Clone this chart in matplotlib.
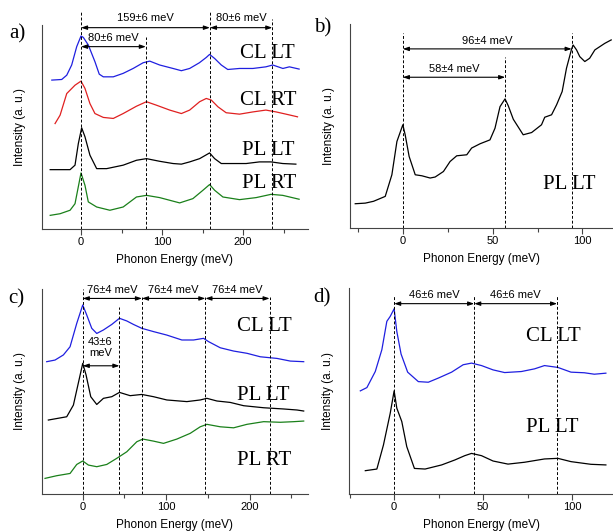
import matplotlib
matplotlib.use("Agg")
import matplotlib.pyplot as plt
from matplotlib.ticker import MultipleLocator

plt.rcParams['font.family'] = ['Liberation Sans', 'DejaVu Sans']

# ---- panel a) ----
a_cl_lt_x = [-36, -23.8, -17.6, -11.5, -5.3, 0, 2.9, 9, 17.2, 22.5, 27.5, 39.8, 52, 64.3, 76.6, 84.8, 97,
             113.5, 123.8, 134, 146, 154.5, 158.6, 164.8, 173, 181, 195.5, 212, 228, 236.5, 249, 257, 269]
a_cl_lt_y = [73.0, 73.3, 75.4, 80.4, 89.4, 94.6, 93.9, 90.2, 82, 75.9, 74.6, 74.6, 76.3, 78.7, 81.5, 82.3, 80.4,
             78.7, 77.6, 78.7, 81.5, 84.1, 85.6, 83.6, 80.4, 78.2, 78.7, 78.7, 79.5, 80.4, 78.7, 79.5, 78.4]
a_cl_rt_x = [-32, -25.8, -17.6, -7.4, 0, 4.9, 11, 17.2, 27.5, 39.8, 52, 68.4, 80.7, 93, 109.4, 123.8, 134,
             146.3, 154.5, 160.7, 168.9, 179, 195.5, 212, 228, 240.6, 252.9, 267]
a_cl_rt_y = [51.7, 55.8, 66.4, 70.5, 72.5, 68.9, 61.5, 56.6, 54.7, 54.2, 56.6, 60.2, 62.4, 60.7, 58.3, 56.6, 58.3,
             62.4, 64, 63.2, 59.9, 57, 56.3, 57.4, 58.3, 57.4, 56.3, 55]
a_pl_lt_x = [-38, -13.5, -7.4, -3.3, 0.8, 4.9, 11, 19.3, 31.6, 52, 68.4, 80.7, 97, 113.5, 123.8, 134, 146.3,
             158.6, 164.8, 173, 187.3, 203.7, 220, 234.4, 248.8, 265]
a_pl_lt_y = [29.1, 29.1, 31.3, 41.9, 49.6, 45.2, 36.2, 29.6, 29.6, 31.3, 33.7, 34.5, 33.2, 32.1, 31.8, 32.9, 34.5,
             37.3, 34.5, 32.1, 32.1, 32.1, 32.9, 32.9, 32.1, 31.8]
a_pl_rt_x = [-38, -25.8, -13.5, -7.4, 0, 4.9, 9, 19.3, 35.6, 52, 68.4, 80.7, 97, 121.7, 138, 150.4, 158.6,
             164.8, 175, 195.5, 216, 234.4, 248.8, 269]
a_pl_rt_y = [6.7, 7.5, 9.2, 12.4, 27.5, 21.4, 13.3, 10.8, 9.2, 10.8, 15.7, 16.5, 15.4, 12.8, 14.9, 19, 21.8,
             19, 15.7, 14.4, 15.4, 17, 16.5, 14.6]
a_lines = [0, 80, 159, 236]

# ---- panel b) ----
b_pl_lt_x = [-26.5, -20.9, -16.3, -9.8, -6.1, -3.3, 0, 1.3, 3.5, 6.9, 10.6, 15.2, 18, 22.6, 26.3, 30, 35.6,
             38.3, 43, 48.5, 51.3, 54.1, 56.9, 58.7, 61.5, 67, 71.7, 77.2, 79, 82.8, 85.6, 88.7, 91.1, 93.9,
             94.8, 96.7, 98.5, 101.3, 104, 106.9, 112.4, 116]
b_pl_lt_y = [11.9, 12.2, 13.1, 15.5, 26.1, 42.4, 50.6, 45.7, 35.1, 26.1, 25.6, 24.5, 25, 27.7, 32.6, 35.4, 35.9,
             39.2, 41.3, 43.2, 48.9, 59.5, 63.3, 59.9, 53.3, 45.7, 46.8, 50.6, 54.3, 55.5, 60.4, 66.9, 78.3, 87.6,
             89.7, 87.3, 84, 81.6, 83.2, 87.3, 90.5, 92.2]
b_lines = [0, 57, 94]

# ---- panel c) ----
c_cl_lt_x = [-43.2, -33.2, -23.2, -15.2, -7.2, 0, 4.8, 10.8, 16.8, 24.8, 34.8, 44, 52.8, 60.8, 70.8, 84.8,
             100.8, 118.8, 132.8, 144.8, 150.8, 164.8, 180.8, 196.8, 212.8, 232.8, 248.8, 264.8]
c_cl_lt_y = [64.5, 65.3, 67.8, 71.8, 83.2, 92.2, 87.3, 80.8, 78.3, 80, 82.7, 85.7, 84.4, 82.7, 80.8, 79.2,
             77.5, 75.1, 75.1, 75.9, 74.3, 71.3, 69.7, 68.6, 66.9, 66.1, 64.8, 64.5]
c_pl_lt_x = [-41.2, -19.2, -11.2, -4, 0, 4, 9.6, 16.8, 24.8, 34.8, 44, 56.8, 70.8, 84.8, 100.8, 124.8, 140.8,
             148.8, 160.8, 176.8, 192.8, 216.8, 240.8, 256.8, 264.8]
c_pl_lt_y = [36, 37.6, 43.3, 56.4, 63.7, 58, 47.4, 43.6, 46.6, 47.4, 49.5, 47.9, 48.5, 47.4, 45.8, 45, 45.8,
             46.6, 45.3, 44.6, 43, 42, 41.4, 40.9, 40.4]
c_pl_rt_x = [-45.2, -31.2, -15.2, -7.2, 0, 6.8, 16.8, 28.8, 40.8, 52.8, 64.8, 72, 84.8, 96.8, 112.8, 128.8,
             140.8, 148.8, 164.8, 180.8, 196.8, 216.8, 236.8, 252.8, 264.8]
c_pl_rt_y = [7.5, 8.8, 9.9, 14.3, 16, 14, 13.2, 14.3, 17.3, 20.5, 25.4, 26.7, 25.7, 24.6, 26.7, 29.5,
             32.7, 33.9, 32.7, 32.2, 33.9, 35.2, 34.9, 35.2, 35.5]
c_lines = [0, 44, 71, 147, 224]

# ---- panel d) ----
d_cl_lt_x = [-19, -15.3, -10.6, -6.9, -4.1, -2.2, 0, 1.5, 3.9, 7.6, 13.6, 19.2, 24.8, 32.3, 38.8, 43.5, 49.1,
             55.6, 62.1, 71.5, 78.9, 84.5, 92, 99.4, 106.9, 112.5, 119]
d_cl_lt_y = [50, 51.6, 59.4, 70, 83.8, 86.2, 89.9, 78.9, 67.9, 59.1, 54.5, 54.2, 56.2, 59.1, 62.7, 63.5, 62.3,
             60.2, 58.9, 59.4, 60.7, 62.3, 61.4, 59.1, 58.8, 58.1, 58.6]
d_pl_lt_x = [-16.2, -9.7, -6, -2.2, 0, 1.5, 4.3, 7.1, 11.4, 17.4, 26.7, 34.1, 39.7, 43.5, 49.1, 55.6, 64,
             73.3, 84.5, 92, 99.4, 110.6, 119]
d_pl_lt_y = [11.2, 12, 23.7, 39.1, 50, 41.6, 35.1, 22.9, 12.3, 12, 14, 16.4, 18.5, 19.6, 18.5, 15.9, 14.4,
             15.3, 16.9, 17.2, 15.6, 14.3, 14]
d_lines = [0, 45, 91.6]

fig = plt.figure(figsize=(6.13, 5.31), dpi=100)
axa = fig.add_axes([0.068, 0.5687, 0.4345, 0.3842])
axb = fig.add_axes([0.571, 0.5706, 0.429, 0.3842])
axc = fig.add_axes([0.068, 0.0702, 0.4345, 0.3855])
axd = fig.add_axes([0.5698, 0.0702, 0.4302, 0.3874])

spine_col = '#444444'
arrow = dict(arrowstyle='<|-|>,head_length=0.35,head_width=0.12', color='black', lw=0.8,
             shrinkA=0, shrinkB=0)


def style(ax, xlim, major, minor):
    ax.set_xlim(*xlim)
    ax.set_ylim(0, 100)
    for s in ['top', 'right']:
        ax.spines[s].set_visible(False)
    for s in ['left', 'bottom']:
        ax.spines[s].set_color(spine_col)
        ax.spines[s].set_linewidth(0.8)
    ax.set_yticks([])
    ax.xaxis.set_major_locator(MultipleLocator(major))
    ax.xaxis.set_minor_locator(MultipleLocator(minor))
    ax.tick_params(axis='x', which='major', length=4, width=0.8, color=spine_col, labelsize=8, pad=2)
    ax.tick_params(axis='x', which='minor', length=3, width=0.8, color=spine_col)
    ax.set_xlabel('Phonon Energy (meV)', fontsize=8.5, labelpad=5)
    ax.set_ylabel('Intensity (a. u.)', fontsize=8.5, labelpad=11)


def vline(ax, x, top):
    ax.plot([x, x], [0, top], ls=(0, (3, 2)), color='black', lw=0.7, clip_on=False)


def span(ax, x0, x1, y, label, ty):
    ax.annotate('', xy=(x1, y), xytext=(x0, y), arrowprops=arrow, annotation_clip=False)
    ax.text((x0 + x1) / 2, ty, label, ha='center', va='center', fontsize=8, clip_on=False)


def tag(ax, x, y, label):
    ax.text(x, y, label, ha='left', va='center', fontsize=15, family='Liberation Serif')


# a)
style(axa, (-48.5, 280), 100, 50)
axa.plot(a_cl_lt_x, a_cl_lt_y, color='#1f1fe0', lw=0.9)
axa.plot(a_cl_rt_x, a_cl_rt_y, color='#e02020', lw=0.9)
axa.plot(a_pl_lt_x, a_pl_lt_y, color='black', lw=0.9)
axa.plot(a_pl_rt_x, a_pl_rt_y, color='#1a801a', lw=0.9)
for x, top in zip(a_lines, [106.5, 94, 106.5, 103]):
    vline(axa, x, top)
span(axa, a_lines[0], a_lines[2], 98.7, '159±6 meV', 103.3)
span(axa, a_lines[2], a_lines[3], 98.7, '80±6 meV', 103.3)
span(axa, a_lines[0], a_lines[1], 89.4, '80±6 meV', 93.8)
tag(axa, 196, 86, 'CL LT')
tag(axa, 196, 63, 'CL RT')
tag(axa, 199, 38.4, 'PL LT')
tag(axa, 199, 22.3, 'PL RT')

# b)
style(axb, (-29.4, 117), 50, 25)
axb.plot(b_pl_lt_x, b_pl_lt_y, color='black', lw=0.9)
for x, top in zip(b_lines, [95.4, 84, 95.4]):
    vline(axb, x, top)
span(axb, b_lines[0], b_lines[2], 87.8, '96±4 meV', 91.9)
span(axb, b_lines[0], b_lines[1], 73.9, '58±4 meV', 78)
tag(axb, 78, 21.2, 'PL LT')

# c)
style(axc, (-49.2, 270), 100, 50)
axc.plot(c_cl_lt_x, c_cl_lt_y, color='#1f1fe0', lw=0.9)
axc.plot(c_pl_lt_x, c_pl_lt_y, color='black', lw=0.9)
axc.plot(c_pl_rt_x, c_pl_rt_y, color='#1a801a', lw=0.9)
for x, top in zip(c_lines, [100, 91.4, 96, 96, 96]):
    vline(axc, x, top)
span(axc, c_lines[0], c_lines[2], 95.4, '76±4 meV', 99.6)
span(axc, c_lines[2], c_lines[3], 95.4, '76±4 meV', 99.6)
span(axc, c_lines[3], c_lines[4], 95.4, '76±4 meV', 99.6)
span(axc, c_lines[0], c_lines[1], 62.5, '', 0)
axc.text(21, 71.5, '43±6\nmeV', ha='center', va='center', fontsize=8, linespacing=1.1)
tag(axc, 185, 81.6, 'CL LT')
tag(axc, 185, 48.2, 'PL LT')
tag(axc, 185, 16.4, 'PL RT')

# d)
style(axd, (-25.2, 123), 50, 25)
axd.plot(d_cl_lt_x, d_cl_lt_y, color='#1f1fe0', lw=0.9)
axd.plot(d_pl_lt_x, d_pl_lt_y, color='black', lw=0.9)
for x in d_lines:
    vline(axd, x, 96)
span(axd, d_lines[0], d_lines[1], 92.4, '46±6 meV', 96.6)
span(axd, d_lines[1], d_lines[2], 92.4, '46±6 meV', 96.6)
tag(axd, 74, 76.5, 'CL LT')
tag(axd, 74, 32.3, 'PL LT')

for lab, x, y in [('a)', 0.015, 0.937), ('b)', 0.513, 0.947), ('c)', 0.013, 0.438), ('d)', 0.511, 0.44)]:
    fig.text(x, y, lab, fontsize=15, family='Liberation Serif', va='center')

fig.savefig('out.png', dpi=100)
